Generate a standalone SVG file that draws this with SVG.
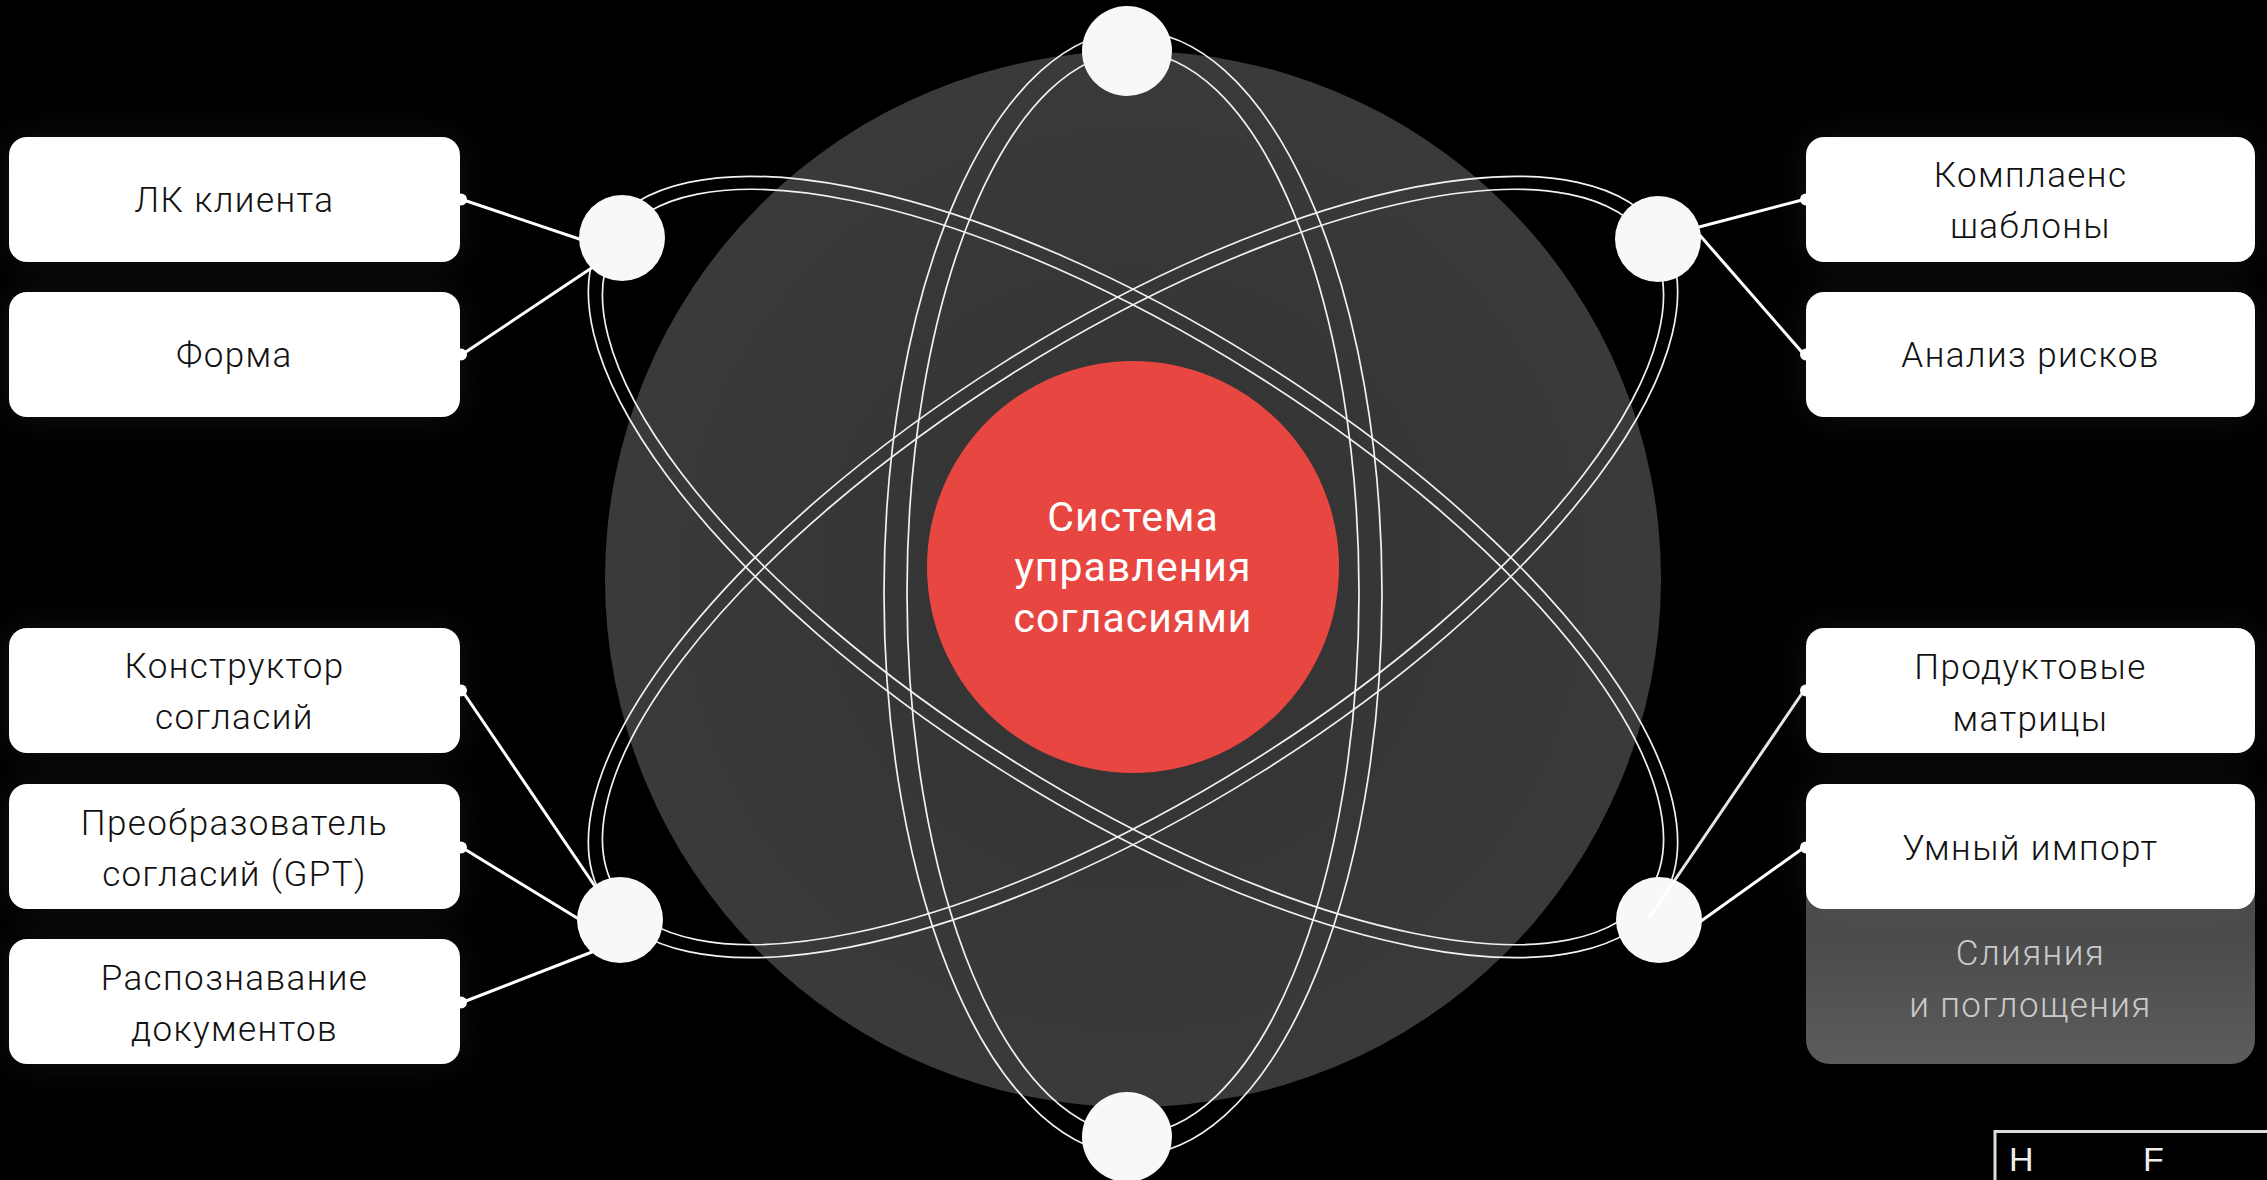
<svg xmlns="http://www.w3.org/2000/svg" width="2267" height="1180" viewBox="0 0 2267 1180">
<defs>
<radialGradient id="sphere" cx="50%" cy="50%" r="50%">
<stop offset="0" stop-color="#323232"/>
<stop offset="1" stop-color="#3a3a3a"/>
</radialGradient>
<linearGradient id="grayBox" x1="0" y1="0" x2="0" y2="1">
<stop offset="0.35" stop-color="#444444"/>
<stop offset="1" stop-color="#5c5c5c"/>
</linearGradient>
<filter id="glow" x="-20%" y="-50%" width="140%" height="200%">
<feGaussianBlur stdDeviation="18"/>
</filter>
</defs>
<style>
.halo{fill:#ffffff;opacity:0.07;filter:url(#glow)}
.box{fill:#ffffff}
.lbl{font-family:"Roboto Light",Roboto,"Liberation Sans",sans-serif;font-weight:300;font-size:35px;letter-spacing:1.4px;fill:#111111;text-anchor:middle}
.lbl2{font-family:"Roboto Light",Roboto,"Liberation Sans",sans-serif;font-weight:300;font-size:35px;letter-spacing:1.4px;fill:#c9c9c9;text-anchor:middle}
.core{font-family:Roboto,"Liberation Sans",sans-serif;font-weight:400;font-size:41px;letter-spacing:1px;fill:#ffffff;text-anchor:middle}
.orbit{fill:none;stroke:#f2f2f2;stroke-width:1.7}
.conn{stroke:#ffffff;stroke-width:3;fill:none}
.dot{fill:#ffffff}
.sat{fill:#f8f8f8}
.tbl{font-family:"Liberation Sans",Arial,sans-serif;font-size:34px;fill:#eeeeee}
</style>
<rect width="2267" height="1180" fill="#000000"/>

<g id="sphere-bg">
<circle cx="1133" cy="579" r="528" fill="url(#sphere)"/>
</g>

<g id="core">
<circle cx="1133" cy="567" r="206" fill="#e84641"/>
<text class="core" x="1133" y="531">Система</text>
<text class="core" x="1133" y="581">управления</text>
<text class="core" x="1133" y="632">согласиями</text>
</g>

<g id="orbits">
<ellipse class="orbit" cx="1133" cy="593" rx="249" ry="562"/>
<ellipse class="orbit" cx="1133" cy="593" rx="226" ry="541"/>
<ellipse class="orbit" cx="1133" cy="567" rx="625" ry="242" transform="rotate(32.15 1133 567)"/>
<ellipse class="orbit" cx="1133" cy="567" rx="610" ry="228" transform="rotate(32.15 1133 567)"/>
<ellipse class="orbit" cx="1133" cy="567" rx="625" ry="242" transform="rotate(-32.15 1133 567)"/>
<ellipse class="orbit" cx="1133" cy="567" rx="610" ry="228" transform="rotate(-32.15 1133 567)"/>
</g>

<g id="connectors">
<line class="conn" x1="462" y1="199.5" x2="600" y2="246"/>
<line class="conn" x1="462" y1="354.5" x2="605" y2="259"/>
<line class="conn" x1="462" y1="690.5" x2="605" y2="901"/>
<line class="conn" x1="462" y1="847.5" x2="600" y2="932"/>
<line class="conn" x1="462" y1="1002.5" x2="610" y2="945"/>
<line class="conn" x1="1804" y1="199.5" x2="1680" y2="232"/>
<line class="conn" x1="1804" y1="354.5" x2="1690" y2="224"/>
<line class="conn" x1="1804" y1="847.5" x2="1690" y2="929"/>
</g>

<g id="sat-top"><circle class="sat" cx="1127" cy="51" r="45"/></g>
<g id="sat-bottom"><circle class="sat" cx="1127" cy="1137" r="45"/></g>
<g id="sat-ul"><circle class="sat" cx="622" cy="238" r="43"/></g>
<g id="sat-ur"><circle class="sat" cx="1658" cy="239" r="43"/></g>
<g id="sat-ll"><circle class="sat" cx="620" cy="920" r="43"/></g>
<g id="sat-lr"><circle class="sat" cx="1659" cy="920" r="43"/></g>

<g id="connector-over">
<line class="conn" x1="1804" y1="690.5" x2="1649" y2="918" stroke-opacity="0.9"/>
</g>

<g id="box-lk">
<rect class="halo" x="9" y="137" width="451" height="125" rx="18"/>
<rect class="box" x="9" y="137" width="451" height="125" rx="18"/>
<circle class="dot" cx="461" cy="199.5" r="6"/>
<text class="lbl" x="234.5" y="211.5">ЛК клиента</text>
</g>
<g id="box-forma">
<rect class="halo" x="9" y="292" width="451" height="125" rx="18"/>
<rect class="box" x="9" y="292" width="451" height="125" rx="18"/>
<circle class="dot" cx="461" cy="354.5" r="6"/>
<text class="lbl" x="234.5" y="366.5">Форма</text>
</g>
<g id="box-constructor">
<rect class="halo" x="9" y="628" width="451" height="125" rx="18"/>
<rect class="box" x="9" y="628" width="451" height="125" rx="18"/>
<circle class="dot" cx="461" cy="690.5" r="6"/>
<text class="lbl" x="234.5" y="677.5">Конструктор</text>
<text class="lbl" x="234.5" y="728.5">согласий</text>
</g>
<g id="box-gpt">
<rect class="halo" x="9" y="784" width="451" height="125" rx="18"/>
<rect class="box" x="9" y="784" width="451" height="125" rx="18"/>
<circle class="dot" cx="461" cy="847.5" r="6"/>
<text class="lbl" x="234.5" y="834.5">Преобразователь</text>
<text class="lbl" x="234.5" y="885.5">согласий (GPT)</text>
</g>
<g id="box-ocr">
<rect class="halo" x="9" y="939" width="451" height="125" rx="18"/>
<rect class="box" x="9" y="939" width="451" height="125" rx="18"/>
<circle class="dot" cx="461" cy="1002.5" r="6"/>
<text class="lbl" x="234.5" y="989.5">Распознавание</text>
<text class="lbl" x="234.5" y="1040.5">документов</text>
</g>

<g id="box-compliance">
<rect class="halo" x="1806" y="137" width="449" height="125" rx="18"/>
<rect class="box" x="1806" y="137" width="449" height="125" rx="18"/>
<circle class="dot" cx="1806" cy="199.5" r="6"/>
<text class="lbl" x="2030.5" y="186.5">Комплаенс</text>
<text class="lbl" x="2030.5" y="237.5">шаблоны</text>
</g>
<g id="box-risk">
<rect class="halo" x="1806" y="292" width="449" height="125" rx="18"/>
<rect class="box" x="1806" y="292" width="449" height="125" rx="18"/>
<circle class="dot" cx="1806" cy="354.5" r="6"/>
<text class="lbl" x="2030.5" y="366.5">Анализ рисков</text>
</g>
<g id="box-product">
<rect class="halo" x="1806" y="628" width="449" height="125" rx="18"/>
<rect class="box" x="1806" y="628" width="449" height="125" rx="18"/>
<circle class="dot" cx="1806" cy="690.5" r="6"/>
<text class="lbl" x="2030.5" y="678.5">Продуктовые</text>
<text class="lbl" x="2030.5" y="730.5">матрицы</text>
</g>
<g id="box-ma">
<rect x="1806" y="784" width="449" height="280" rx="24" fill="url(#grayBox)"/>
<text class="lbl2" x="2030.5" y="965">Слияния</text>
<text class="lbl2" x="2030.5" y="1017">и поглощения</text>
</g>
<g id="box-import">
<rect class="halo" x="1806" y="784" width="449" height="125" rx="18"/>
<rect class="box" x="1806" y="784" width="449" height="125" rx="18"/>
<circle class="dot" cx="1806" cy="847.5" r="6"/>
<text class="lbl" x="2030.5" y="859.5">Умный импорт</text>
</g>

<g id="table-fragment">
<path d="M1995 1180 V1131.5 H2267" fill="none" stroke="#dddddd" stroke-width="3"/>
<text class="tbl" x="2009" y="1171">H</text>
<text class="tbl" x="2143" y="1171">F</text>
</g>
</svg>
